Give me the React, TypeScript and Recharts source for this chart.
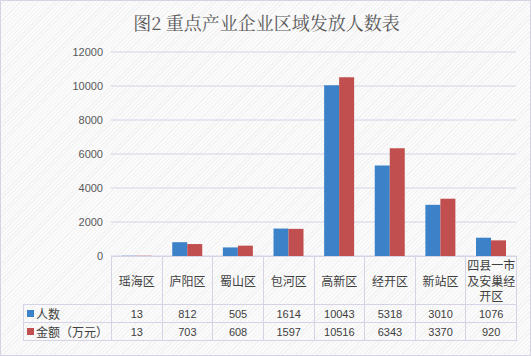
import { BarChart, Bar, XAxis, YAxis, CartesianGrid } from "recharts";

const districts = ["瑶海区", "庐阳区", "蜀山区", "包河区", "高新区", "经开区", "新站区", "四县一市及安巢经开区"];
const headcount = [13, 812, 505, 1614, 10043, 5318, 3010, 1076];
const amount = [13, 703, 608, 1597, 10516, 6343, 3370, 920];
const yTicks = [0, 2000, 4000, 6000, 8000, 10000, 12000];

const seriesNames = ["人数", "金额（万元）"];
const blue = "#3b82c9";
const red = "#c24f4f";

const data = districts.map((name, i) => ({
  name,
  people: headcount[i],
  money: amount[i],
}));

const W = 531;
const H = 356;
const plotLeft = 111;
const plotRight = 516;
const plotBottom = 256;
const colW = (plotRight - plotLeft) / districts.length;
const lineColor = "#d6d3e6";
const textColor = "#404040";

const cell: React.CSSProperties = {
  position: "absolute",
  boxSizing: "border-box",
  display: "flex",
  flexDirection: "column",
  alignItems: "center",
  justifyContent: "center",
  textAlign: "center",
  color: textColor,
};

// split long header into lines of 4 chars
const wrap = (s: string) => {
  const out: string[] = [];
  for (let i = 0; i < s.length; i += 4) out.push(s.slice(i, i + 4));
  return out;
};

const App = () => {
  return (
    <div
      style={{
        position: "absolute",
        left: 0,
        top: 0,
        width: W,
        height: H,
        boxSizing: "border-box",
        border: `1px solid ${lineColor}`,
        background:
          "repeating-linear-gradient(135deg, #fbfbfb 0px, #fbfbfb 2px, #f2f2f2 2px, #f2f2f2 3px)",
        fontFamily: "'Noto Sans CJK SC', 'Noto Sans', sans-serif",
        overflow: "hidden",
      }}
    >
      <div
        style={{
          position: "absolute",
          left: 0,
          top: 8,
          width: W,
          textAlign: "center",
          fontSize: 18,
          color: "#595959",
          fontFamily: "'Noto Serif CJK SC', 'Noto Sans CJK SC', serif",
        }}
      >
        图2 重点产业企业区域发放人数表
      </div>

      <div style={{ position: "absolute", left: -1, top: -1 }}>
        <BarChart
          width={W}
          height={H}
          data={data}
          margin={{ top: 52, right: W - plotRight, left: 0, bottom: H - plotBottom }}
          barCategoryGap="21%"
          barGap={0}
        >
          <CartesianGrid vertical={false} stroke={lineColor} />
          <XAxis dataKey="name" hide />
          <YAxis
            width={plotLeft}
            domain={[0, 12000]}
            ticks={yTicks}
            axisLine={false}
            tickLine={false}
            tick={{ fill: "#595959", fontSize: 11, fontFamily: "'Liberation Sans', Arial, sans-serif" }}
          />
          <Bar dataKey="people" fill={blue} isAnimationActive={false} />
          <Bar dataKey="money" fill={red} isAnimationActive={false} />
        </BarChart>
      </div>

      {/* data table under the plot */}
      {districts.map((d, i) => (
        <div
          key={d}
          style={{
            ...cell,
            left: plotLeft + i * colW - 1,
            top: plotBottom - 1,
            width: colW + 1,
            height: 49,
            border: `1px solid ${lineColor}`,
            fontSize: 12,
            lineHeight: "15.5px",
          }}
        >
          {wrap(d).map((line, k) => (
            <span key={k} style={{ whiteSpace: "nowrap" }}>
              {line}
            </span>
          ))}
        </div>
      ))}

      {[headcount, amount].map((row, r) => (
        <div key={r}>
          <div
            style={{
              ...cell,
              flexDirection: "row",
              justifyContent: "flex-start",
              left: 22,
              top: 303 + r * 18,
              width: plotLeft - 22,
              height: 19,
              border: `1px solid ${lineColor}`,
              fontSize: 12,
              paddingLeft: 3,
            }}
          >
            <span
              style={{
                display: "inline-block",
                width: 7,
                height: 7,
                background: r === 0 ? blue : red,
                marginRight: 2,
              }}
            />
            {seriesNames[r]}
          </div>
          {row.map((v, i) => (
            <div
              key={i}
              style={{
                ...cell,
                left: plotLeft + i * colW - 1,
                top: 303 + r * 18,
                width: colW + 1,
                height: 19,
                border: `1px solid ${lineColor}`,
                fontSize: 11,
                fontFamily: "'Liberation Sans', Arial, sans-serif",
              }}
            >
              {v}
            </div>
          ))}
        </div>
      ))}
    </div>
  );
};

export default App;
